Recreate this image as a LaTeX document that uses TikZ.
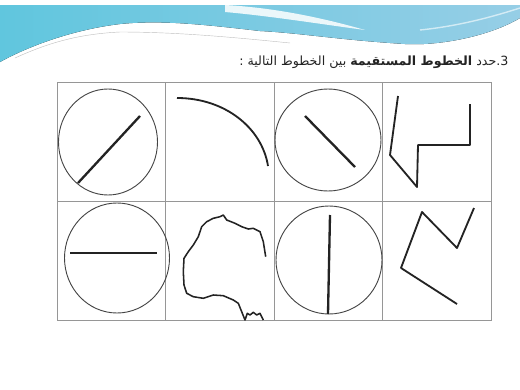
\documentclass[tikz,border=0pt]{standalone}
\usepackage{fontspec}
\newfontfamily\arabicfont[Script=Arabic]{DejaVu Sans}
\TeXXeTstate=1
\usetikzlibrary{positioning}
\definecolor{sky}{RGB}{96,198,222}
\definecolor{pale}{RGB}{150,206,230}
\definecolor{rule}{RGB}{150,150,150}
\definecolor{ink}{RGB}{35,35,35}
\tikzset{
  cell/.style={draw=rule,line width=1.1pt,minimum width=54.25mm,minimum height=59.5mm,
    inner sep=0pt,outer sep=0pt},
  ring/.style={draw=ink!85,line width=1.3pt},
  stroke/.style={draw=ink,line width=3.3pt},
  wire/.style={draw=ink,line width=2.6pt,line join=round},
  title/.style={font=\arabicfont\fontsize{18}{21}\selectfont,text=ink,anchor=east},
}
\begin{document}
\begin{tikzpicture}[x=0.5mm,y=-0.5mm]
  \useasboundingbox (0,0) rectangle (520,390);
  \fill[white] (0,0) rectangle (520,390);
  % top band
  \fill[left color=sky,right color=pale] (0,5) -- (520,5) -- (520,18)
    .. controls (490,36) and (440,46) .. (405,44)
    .. controls (340,40) and (300,33) .. (260,31)
    .. controls (200,24) and (160,20) .. (120,24)
    .. controls (70,30) and (25,48) .. (0,62) -- cycle;
  \fill[white,opacity=0.85] (225,5) .. controls (280,8) and (330,20) .. (365,30)
    .. controls (320,24) and (270,16) .. (225,12) -- cycle;
  \draw[white,opacity=0.6,line width=2pt] (420,30) .. controls (460,26) and (495,16) .. (520,8);
  \draw[rule!60,line width=0.6pt] (15,58) .. controls (50,42) and (80,34) .. (120,32)
    .. controls (180,32) and (240,38) .. (290,43);
  % heading
  \node[title] (head) at (511,62)
    {\beginR\beginL 3.\endL حدد \textbf{الخطوط المستقيمة} بين الخطوط التالية :\endR};
  % grid
  \node[cell] (a1) at (111.25,141.5) {};
  \node[cell,right=0pt of a1] (a2) {};
  \node[cell,right=0pt of a2] (a3) {};
  \node[cell,right=0pt of a3] (a4) {};
  \node[cell,below=0pt of a1] (b1) {};
  \node[cell,right=0pt of b1] (b2) {};
  \node[cell,right=0pt of b2] (b3) {};
  \node[cell,right=0pt of b3] (b4) {};
  % row 1
  \draw[ring] (108,142) ellipse [x radius=49.5,y radius=53];
  \draw[stroke] (78,183) -- (140,116);
  \draw[wire] (177,98) .. controls (225,98) and (262,128) .. (268,166);
  \draw[ring] (328,140) ellipse [x radius=53,y radius=51];
  \draw[stroke] (305,116) -- (355,167);
  \draw[wire] (398,96) -- (390,155) -- (417,187) -- (418,145) -- (470,145) -- (470,104);
  % row 2
  \draw[ring] (117,258) ellipse [x radius=52.5,y radius=55];
  \draw[stroke] (70,253) -- (157,253);
  \draw[wire,line width=2.2pt] (265.7,256.7) -- (263.3,241.7) -- (260,231.7) -- (253.3,228.3)
    -- (248.3,229) -- (241.7,226.7) -- (235,223.3) -- (226.7,220) -- (223.3,215)
    -- (220,216.7) -- (213.3,218.3) -- (206.7,221.7) -- (201.7,226.7) -- (198.3,236.7)
    -- (193.3,245) -- (188.3,251.7) -- (184,258.3) -- (183.3,271.7) -- (184,285)
    -- (186.7,293.3) -- (193.3,296.7) -- (203.3,298.3) -- (213.3,295) -- (223.3,295.7)
    -- (233.3,300) -- (238.3,303.3) -- (241.7,311.7) -- (245,320) -- (247.3,313.3)
    -- (250,315) -- (253.3,312.3) -- (256.7,315) -- (260,313.3) -- (263.3,320);
  \draw[ring] (329,260) ellipse [x radius=53,y radius=54];
  \draw[stroke] (330,215) -- (328,314);
  \draw[wire] (457,304) -- (401,268) -- (422,212) -- (457,248) -- (474,208);
\end{tikzpicture}
\end{document}
